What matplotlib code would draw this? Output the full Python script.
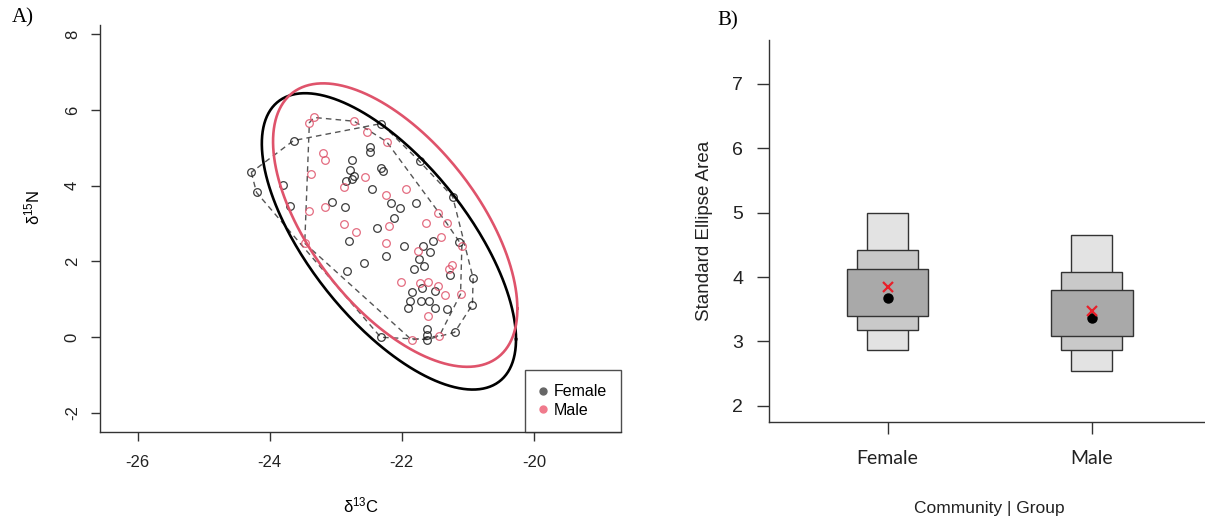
import numpy as np
import matplotlib
matplotlib.use("Agg")
import matplotlib.pyplot as plt
from matplotlib.lines import Line2D

plt.rcParams["font.family"] = ["Liberation Sans", "DejaVu Sans"]
plt.rcParams["mathtext.default"] = "regular"

# isotope values
female_x = [-24.28, -24.20, -23.64, -23.80, -23.69, -22.31, -21.73, -22.48, -22.48, -22.75,
            -22.78, -22.73, -22.85, -22.75, -22.45, -22.31, -22.29, -23.06, -22.86, -22.16,
            -22.03, -21.79, -22.12, -22.38, -22.80, -21.97, -21.68, -22.24, -21.58, -21.52,
            -21.74, -21.67, -21.81, -22.57, -22.83, -21.13, -21.27, -20.92, -21.85, -21.69,
            -21.50, -21.88, -21.90, -21.71, -21.59, -21.50, -21.31, -20.93, -21.62, -21.62,
            -22.32, -21.20, -21.23, -21.62]
female_y = [4.35, 3.82, 5.19, 4.02, 3.47, 5.64, 4.64, 5.01, 4.88, 4.68,
            4.41, 4.25, 4.12, 4.17, 3.91, 4.46, 4.39, 3.56, 3.45, 3.54,
            3.42, 3.54, 3.15, 2.88, 2.53, 2.40, 2.42, 2.15, 2.24, 2.55,
            2.07, 1.88, 1.79, 1.96, 1.76, 2.51, 1.63, 1.56, 1.20, 1.30,
            1.23, 0.96, 0.77, 0.95, 0.97, 0.77, 0.75, 0.86, 0.22, 0.05,
            0.00, 0.13, 3.71, -0.06]
male_x = [-23.40, -23.33, -22.72, -22.53, -22.23, -23.20, -23.16, -23.38, -22.56, -22.88,
          -21.93, -22.24, -23.16, -23.40, -22.88, -22.70, -22.19, -21.64, -21.32, -21.41,
          -22.24, -21.75, -21.09, -21.45, -21.24, -21.29, -22.01, -21.73, -21.60, -21.45,
          -21.35, -21.11, -21.60, -21.43, -21.85, -23.47]
male_y = [5.66, 5.80, 5.70, 5.42, 5.16, 4.86, 4.67, 4.30, 4.24, 3.96,
          3.91, 3.76, 3.45, 3.34, 2.98, 2.79, 2.94, 3.01, 3.01, 2.64,
          2.50, 2.28, 2.42, 3.29, 1.92, 1.79, 1.46, 1.44, 1.46, 1.36,
          1.11, 1.14, 0.57, 0.04, -0.07, 2.48]

# 95% ellipses: centre x, centre y, half-extent x, half-extent y, correlation
female_ellipse = [-22.195, 2.53, 1.925, 3.91, -0.66]
male_ellipse = [-22.10, 2.96, 1.85, 3.74, -0.59]

# panel B: SEA credible intervals
groups = ["Female", "Male"]
ci95_lo = [2.86, 2.54]
ci95_hi = [5.00, 4.65]
ci75_lo = [3.18, 2.87]
ci75_hi = [4.42, 4.08]
ci50_lo = [3.40, 3.08]
ci50_hi = [4.12, 3.80]
sea_mode = [3.67, 3.37]
sea_ml = [3.85, 3.47]


def ellipse_xy(cx, cy, sx, sy, rho, n=300):
    t = np.linspace(0, 2 * np.pi, n)
    return cx + sx * np.cos(t), cy + sy * (rho * np.cos(t) + np.sqrt(1 - rho ** 2) * np.sin(t))


def hull(xs, ys):
    pts = sorted(set(zip(xs, ys)))

    def cross(o, a, b):
        return (a[0] - o[0]) * (b[1] - o[1]) - (a[1] - o[1]) * (b[0] - o[0])

    lower, upper = [], []
    for p in pts:
        while len(lower) >= 2 and cross(lower[-2], lower[-1], p) <= 0:
            lower.pop()
        lower.append(p)
    for p in reversed(pts):
        while len(upper) >= 2 and cross(upper[-2], upper[-1], p) <= 0:
            upper.pop()
        upper.append(p)
    h = lower[:-1] + upper
    return [p[0] for p in h], [p[1] for p in h]


fig = plt.figure(figsize=(12.05, 5.29), dpi=100)
axc = "#333333"

# ---------------- panel A
ax1 = fig.add_axes([100 / 1205, 1 - 432 / 529, 521 / 1205, 407 / 529])
ax1.set_xlim(-26.571, -18.68)
ax1.set_ylim(-2.50, 8.24)
for s in ["top", "right"]:
    ax1.spines[s].set_visible(False)
for s in ["left", "bottom"]:
    ax1.spines[s].set_color(axc)
    ax1.spines[s].set_linewidth(1)
ax1.set_xticks([-26, -24, -22, -20])
ax1.set_xticklabels(["-26", "-24", "-22", "-20"])
ax1.set_yticks([-2, 0, 2, 4, 6, 8])
ax1.set_yticklabels(["-2", "0", "2", "4", "6", "8"], rotation=90, va="center")
ax1.tick_params(axis="both", direction="out", length=6.5, width=1, color=axc,
                labelsize=12, labelcolor="#222222")
ax1.tick_params(axis="x", pad=10)
ax1.tick_params(axis="y", pad=8)

# convex hulls
fhx, fhy = hull(female_x, female_y)
mhx, mhy = hull(male_x, male_y)
ax1.plot(fhx, fhy, ls=(0, (4, 3)), color="#555555", lw=1)
ax1.plot(mhx, mhy, ls=(0, (4, 3)), color="#555555", lw=1)

ax1.plot(female_x, female_y, "o", mfc="none", mec="#1a1a1a", mew=0.9, ms=5.5, alpha=0.85)
ax1.plot(male_x, male_y, "o", mfc="none", mec="#DF536B", mew=0.9, ms=5.5, alpha=0.85)

ex, ey = ellipse_xy(*female_ellipse)
ax1.plot(ex, ey, color="black", lw=1.9)
ex, ey = ellipse_xy(*male_ellipse)
ax1.plot(ex, ey, color="#DF536B", lw=1.9)

handles = [Line2D([], [], ls="none", marker="o", ms=5, mfc="#666666", mec="#666666"),
           Line2D([], [], ls="none", marker="o", ms=5, mfc="#F07A8C", mec="#F07A8C")]
leg = ax1.legend(handles, ["Female", "Male"], loc="lower right", bbox_to_anchor=(1, 0),
                 borderaxespad=0, fancybox=False, edgecolor="#222222", fontsize=11.5,
                 handlelength=0.4, handletextpad=0.45, labelspacing=0.2, borderpad=0.9)
leg.get_frame().set_linewidth(1)

fig.text(361 / 1205, 1 - 505 / 529, r"$\delta^{13}$C", ha="center", va="center", fontsize=12)
fig.text(32 / 1205, 1 - 207 / 529, r"$\delta^{15}$N", ha="center", va="center", fontsize=12,
         rotation=90)
fig.text(23 / 1205, 1 - 18 / 529, "A)", ha="center", va="center", fontsize=15,
         family="Liberation Serif")

# ---------------- panel B
ax2 = fig.add_axes([769 / 1205, 1 - 421.7 / 529, 436 / 1205, 381.7 / 529])
ax2.set_xlim(0.42, 2.554)
ax2.set_ylim(1.752, 7.683)
for s in ["top", "right"]:
    ax2.spines[s].set_visible(False)
for s in ["left", "bottom"]:
    ax2.spines[s].set_color(axc)
    ax2.spines[s].set_linewidth(1)

pos = np.arange(1, len(groups) + 1)
for lo, hi, w, col in [(ci95_lo, ci95_hi, 0.2, "#e3e3e3"),
                       (ci75_lo, ci75_hi, 0.3, "#c9c9c9"),
                       (ci50_lo, ci50_hi, 0.4, "#a9a9a9")]:
    ax2.bar(pos, np.array(hi) - np.array(lo), bottom=lo, width=w, color=col,
            edgecolor="#333333", linewidth=1)
ax2.plot(pos, sea_mode, "o", color="black", ms=6.5)
ax2.plot(pos, sea_ml, "x", color="#E8202A", ms=7, mew=1.6)

ax2.set_xticks(pos)
ax2.set_xticklabels(groups, family="Lato", fontsize=14)
ax2.set_yticks([2, 3, 4, 5, 6, 7])
ax2.tick_params(axis="both", direction="out", length=8.5, width=1, color=axc,
                labelcolor="#222222")
ax2.tick_params(axis="y", labelsize=14, pad=10)
ax2.tick_params(axis="x", pad=12)
ax2.set_ylabel("Standard Ellipse Area", fontsize=13.5, color="#222222", labelpad=14)
fig.text(989 / 1205, 1 - 508 / 529, "Community | Group", ha="center", va="center",
         fontsize=12.5, color="#222222")
fig.text(728 / 1205, 1 - 21 / 529, "B)", ha="center", va="center", fontsize=15,
         family="Liberation Serif")

fig.savefig("out.png", dpi=100)
